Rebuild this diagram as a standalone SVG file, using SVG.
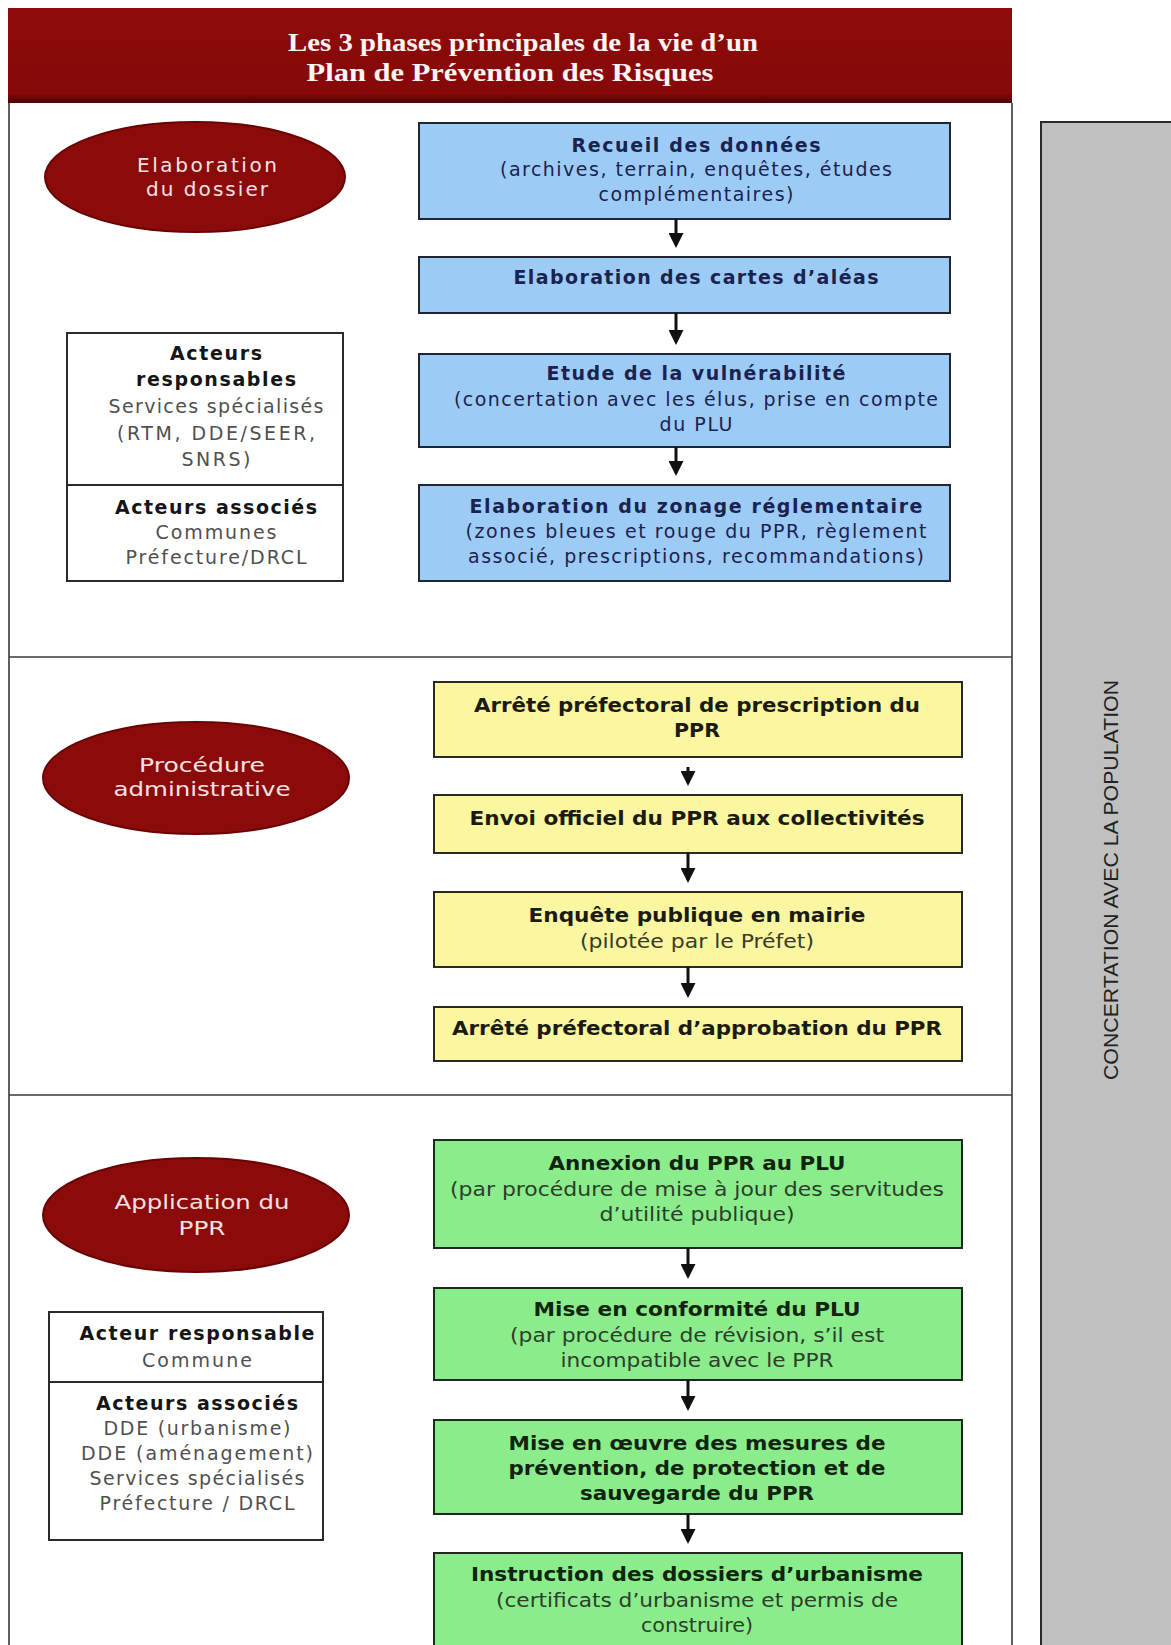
<svg xmlns="http://www.w3.org/2000/svg" width="1171" height="1645" viewBox="0 0 1171 1645">
<style>
.frame{fill:none;stroke:#3a3a3a;stroke-width:1.6}
.blue{fill:#9ccbf6;stroke:#1e2636;stroke-width:2}
.yel{fill:#fbf6a0;stroke:#2a2a22;stroke-width:2}
.grn{fill:#8aec8a;stroke:#1f2a1f;stroke-width:2}
.act{fill:#fff;stroke:#2a2a2a;stroke-width:2}
.ell{fill:#8b0b0b;stroke:#6a0404;stroke-width:2}
.v{font-family:"DejaVu Sans",Verdana,sans-serif;font-size:19px;text-anchor:middle}
.vb{font-weight:bold}
.bt{fill:#1c2250}
.at{fill:#505050}
.ab{fill:#151515}
.c{font-family:"DejaVu Sans Condensed","DejaVu Sans",sans-serif;font-size:19px;text-anchor:middle}
.yt{fill:#1b1b12}
.yr{fill:#3a3a2a}
.gt{fill:#102410}
.gr{fill:#2c3e2c}
.et{font-family:"DejaVu Sans",sans-serif;font-size:20px;text-anchor:middle;fill:#f6e2e2}
.title{font-family:"Liberation Serif","Times New Roman",serif;font-weight:bold;font-size:26px;text-anchor:middle;fill:#fff4f4}
.arr{stroke:#111;stroke-width:3;fill:none;marker-end:url(#ah)}
</style>
<defs>
<marker id="ah" markerWidth="5" markerHeight="5" refX="4" refY="2.5" orient="auto" markerUnits="strokeWidth">
<path d="M0,0 L5,2.5 L0,5 Z" fill="#111"/>
</marker>
<linearGradient id="hg" x1="0" y1="0" x2="0" y2="1">
<stop offset="0" stop-color="#8e0c0c"/>
<stop offset="0.9" stop-color="#860808"/>
<stop offset="1" stop-color="#4a0000"/>
</linearGradient>
</defs>
<rect width="1171" height="1645" fill="#fff"/>

<g id="header">
<rect x="8" y="8" width="1004" height="95" fill="url(#hg)"/>
<text class="title" x="523" y="51" textLength="470" lengthAdjust="spacingAndGlyphs">Les 3 phases principales de la vie d’un</text>
<text class="title" x="510" y="81" textLength="407" lengthAdjust="spacingAndGlyphs">Plan de Prévention des Risques</text>
</g>

<g id="frame">
<path class="frame" d="M9,103 V1645 M1012,103 V1645 M9,657 H1012 M9,1095 H1012"/>
</g>

<g id="concertation">
<rect x="1041" y="122" width="140" height="1540" fill="#c0c0c0" stroke="#2a2a2a" stroke-width="2"/>
<text transform="translate(1118,880) rotate(-90)" font-family="'Liberation Sans','DejaVu Sans Condensed',sans-serif" font-size="21" text-anchor="middle" fill="#222" textLength="400" lengthAdjust="spacingAndGlyphs">CONCERTATION AVEC LA POPULATION</text>
</g>

<g id="phase1">
<ellipse class="ell" cx="195" cy="177" rx="150" ry="55"/>
<text class="et" x="207" y="172" textLength="140" lengthAdjust="spacing">Elaboration</text>
<text class="et" x="207" y="196" textLength="122" lengthAdjust="spacing">du dossier</text>
</g>

<g id="acteurs1">
<rect class="act" x="67" y="333" width="276" height="248"/>
<line x1="67" y1="485" x2="343" y2="485" stroke="#2a2a2a" stroke-width="2"/>
<text class="v vb ab" x="216" y="360" textLength="92" lengthAdjust="spacing">Acteurs</text>
<text class="v vb ab" x="216" y="386" textLength="160" lengthAdjust="spacing">responsables</text>
<text class="v at" x="216" y="413" textLength="215" lengthAdjust="spacing">Services spécialisés</text>
<text class="v at" x="216" y="440" textLength="198" lengthAdjust="spacing">(RTM, DDE/SEER,</text>
<text class="v at" x="216" y="466" textLength="69" lengthAdjust="spacing">SNRS)</text>
<text class="v vb ab" x="216" y="514" textLength="202" lengthAdjust="spacing">Acteurs associés</text>
<text class="v at" x="216" y="539" textLength="121" lengthAdjust="spacing">Communes</text>
<text class="v at" x="216" y="564" textLength="181" lengthAdjust="spacing">Préfecture/DRCL</text>
</g>

<g id="b1">
<rect class="blue" x="419" y="123" width="531" height="96"/>
<text class="v vb bt" x="696" y="152" textLength="249" lengthAdjust="spacing">Recueil des données</text>
<text class="v bt" x="696" y="176" textLength="392" lengthAdjust="spacing">(archives, terrain, enquêtes, études</text>
<text class="v bt" x="696" y="201" textLength="195" lengthAdjust="spacing">complémentaires)</text>
</g>
<g id="b2">
<rect class="blue" x="419" y="257" width="531" height="56"/>
<text class="v vb bt" x="696" y="284" textLength="365" lengthAdjust="spacing">Elaboration des cartes d’aléas</text>
</g>
<g id="b3">
<rect class="blue" x="419" y="354" width="531" height="93"/>
<text class="v vb bt" x="696" y="380" textLength="299" lengthAdjust="spacing">Etude de la vulnérabilité</text>
<text class="v bt" x="696" y="406" textLength="484" lengthAdjust="spacing">(concertation avec les élus, prise en compte</text>
<text class="v bt" x="696" y="431" textLength="73" lengthAdjust="spacing">du PLU</text>
</g>
<g id="b4">
<rect class="blue" x="419" y="485" width="531" height="96"/>
<text class="v vb bt" x="696" y="513" textLength="453" lengthAdjust="spacing">Elaboration du zonage réglementaire</text>
<text class="v bt" x="696" y="538" textLength="461" lengthAdjust="spacing">(zones bleues et rouge du PPR, règlement</text>
<text class="v bt" x="696" y="563" textLength="456" lengthAdjust="spacing">associé, prescriptions, recommandations)</text>
</g>

<g id="phase2">
<ellipse class="ell" cx="196" cy="778" rx="153" ry="56"/>
<text class="et" x="202" y="772" textLength="126" lengthAdjust="spacingAndGlyphs">Procédure</text>
<text class="et" x="202" y="796" textLength="177" lengthAdjust="spacingAndGlyphs">administrative</text>
</g>

<g id="y1">
<rect class="yel" x="434" y="682" width="528" height="75"/>
<text class="c vb yt" x="697" y="712" textLength="446" lengthAdjust="spacingAndGlyphs">Arrêté préfectoral de prescription du</text>
<text class="c vb yt" x="697" y="737" textLength="46" lengthAdjust="spacingAndGlyphs">PPR</text>
</g>
<g id="y2">
<rect class="yel" x="434" y="795" width="528" height="58"/>
<text class="c vb yt" x="697" y="825" textLength="455" lengthAdjust="spacingAndGlyphs">Envoi officiel du PPR aux collectivités</text>
</g>
<g id="y3">
<rect class="yel" x="434" y="892" width="528" height="75"/>
<text class="c vb yt" x="697" y="922" textLength="337" lengthAdjust="spacingAndGlyphs">Enquête publique en mairie</text>
<text class="c yr" x="697" y="948" textLength="234" lengthAdjust="spacingAndGlyphs">(pilotée par le Préfet)</text>
</g>
<g id="y4">
<rect class="yel" x="434" y="1007" width="528" height="54"/>
<text class="c vb yt" x="697" y="1035" textLength="490" lengthAdjust="spacingAndGlyphs">Arrêté préfectoral d’approbation du PPR</text>
</g>

<g id="phase3">
<ellipse class="ell" cx="196" cy="1215" rx="153" ry="57"/>
<text class="et" x="202" y="1209" textLength="175" lengthAdjust="spacingAndGlyphs">Application du</text>
<text class="et" x="202" y="1235" textLength="47" lengthAdjust="spacingAndGlyphs">PPR</text>
</g>

<g id="acteurs3">
<rect class="act" x="49" y="1312" width="274" height="228"/>
<line x1="49" y1="1382" x2="323" y2="1382" stroke="#2a2a2a" stroke-width="2"/>
<text class="v vb ab" x="197" y="1340" textLength="235" lengthAdjust="spacing">Acteur responsable</text>
<text class="v at" x="197" y="1367" textLength="110" lengthAdjust="spacing">Commune</text>
<text class="v vb ab" x="197" y="1410" textLength="202" lengthAdjust="spacing">Acteurs associés</text>
<text class="v at" x="197" y="1435" textLength="187" lengthAdjust="spacing">DDE (urbanisme)</text>
<text class="v at" x="197" y="1460" textLength="232" lengthAdjust="spacing">DDE (aménagement)</text>
<text class="v at" x="197" y="1485" textLength="215" lengthAdjust="spacing">Services spécialisés</text>
<text class="v at" x="197" y="1510" textLength="195" lengthAdjust="spacing">Préfecture / DRCL</text>
</g>

<g id="g1">
<rect class="grn" x="434" y="1140" width="528" height="108"/>
<text class="c vb gt" x="697" y="1170" textLength="297" lengthAdjust="spacingAndGlyphs">Annexion du PPR au PLU</text>
<text class="c gr" x="697" y="1196" textLength="494" lengthAdjust="spacingAndGlyphs">(par procédure de mise à jour des servitudes</text>
<text class="c gr" x="697" y="1221" textLength="195" lengthAdjust="spacingAndGlyphs">d’utilité publique)</text>
</g>
<g id="g2">
<rect class="grn" x="434" y="1288" width="528" height="92"/>
<text class="c vb gt" x="697" y="1316" textLength="327" lengthAdjust="spacingAndGlyphs">Mise en conformité du PLU</text>
<text class="c gr" x="697" y="1342" textLength="374" lengthAdjust="spacingAndGlyphs">(par procédure de révision, s’il est</text>
<text class="c gr" x="697" y="1367" textLength="273" lengthAdjust="spacingAndGlyphs">incompatible avec le PPR</text>
</g>
<g id="g3">
<rect class="grn" x="434" y="1420" width="528" height="94"/>
<text class="c vb gt" x="697" y="1450" textLength="377" lengthAdjust="spacingAndGlyphs">Mise en œuvre des mesures de</text>
<text class="c vb gt" x="697" y="1475" textLength="377" lengthAdjust="spacingAndGlyphs">prévention, de protection et de</text>
<text class="c vb gt" x="697" y="1500" textLength="234" lengthAdjust="spacingAndGlyphs">sauvegarde du PPR</text>
</g>
<g id="g4">
<rect class="grn" x="434" y="1553" width="528" height="110"/>
<text class="c vb gt" x="697" y="1581" textLength="452" lengthAdjust="spacingAndGlyphs">Instruction des dossiers d’urbanisme</text>
<text class="c gr" x="697" y="1607" textLength="402" lengthAdjust="spacingAndGlyphs">(certificats d’urbanisme et permis de</text>
<text class="c gr" x="697" y="1632" textLength="112" lengthAdjust="spacingAndGlyphs">construire)</text>
</g>

<g id="connectors">
<line class="arr" x1="676" y1="219" x2="676" y2="245"/>
<line class="arr" x1="676" y1="313" x2="676" y2="342"/>
<line class="arr" x1="676" y1="447" x2="676" y2="473"/>
<line class="arr" x1="688" y1="767" x2="688" y2="783"/>
<line class="arr" x1="688" y1="853" x2="688" y2="880"/>
<line class="arr" x1="688" y1="967" x2="688" y2="995"/>
<line class="arr" x1="688" y1="1248" x2="688" y2="1276"/>
<line class="arr" x1="688" y1="1380" x2="688" y2="1408"/>
<line class="arr" x1="688" y1="1514" x2="688" y2="1541"/>
</g>
</svg>
